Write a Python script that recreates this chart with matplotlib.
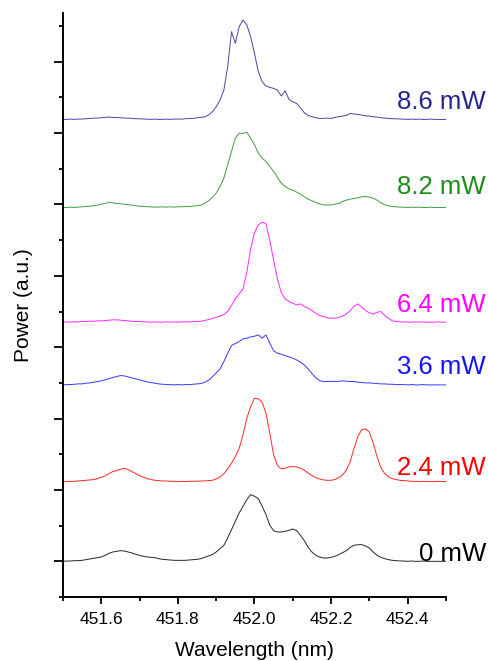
import matplotlib
matplotlib.use("Agg")
import matplotlib.pyplot as plt
import matplotlib.transforms as mtransforms
from matplotlib.ticker import MultipleLocator, NullFormatter, FormatStrFormatter
import numpy as np

plt.rcParams['font.family'] = ['Liberation Sans', 'DejaVu Sans']

# Wavelength grid (nm), 0.01 nm steps from 451.50 to 452.50
wavelength_start = 451.50
wavelength_step = 0.01

# Emission spectra above their own baseline (counts), one list per pump power
spec_0mW = [
    0, 1, 1, 2, 2, 3, 5, 7, 9, 11,
    13, 18, 24, 28, 30, 32, 31, 28, 25, 21,
    18, 15, 13, 12, 11, 8, 6, 5, 4, 3,
    3, 3, 3, 4, 5, 6, 8, 12, 16, 20,
    28, 38, 48, 70, 95, 120, 145, 165, 185, 200,
    195, 188, 165, 140, 108, 92, 88, 88, 90, 93,
    97, 92, 78, 62, 42, 28, 18, 13, 10, 10,
    12, 15, 20, 26, 32, 42, 48, 50, 50, 46,
    40, 28, 18, 12, 8, 5, 3, 2, 1, 1,
    0, 1, 0, 0, 1, 0, 0, 0, 0, 0, 0,
]
spec_2p4mW = [
    0, 0, 1, 1, 2, 3, 4, 5, 6, 9,
    13, 17, 24, 30, 33, 37, 40, 36, 30, 24,
    18, 13, 9, 6, 4, 3, 2, 2, 1, 1,
    0, 1, 0, 1, 1, 1, 2, 2, 3, 4,
    8, 14, 24, 38, 55, 75, 100, 140, 190, 225,
    250, 248, 238, 205, 145, 80, 48, 38, 40, 44,
    45, 44, 40, 34, 26, 18, 12, 8, 5, 4,
    4, 6, 12, 20, 35, 60, 100, 135, 156, 158,
    148, 115, 75, 42, 24, 14, 9, 6, 4, 3,
    2, 1, 1, 0, 1, 0, 0, 0, 1, 0, 0,
]
spec_3p6mW = [
    0, 1, 1, 2, 3, 3, 5, 6, 8, 10,
    12, 15, 19, 22, 25, 28, 27, 24, 21, 18,
    15, 12, 9, 7, 5, 3, 2, 1, 1, 0,
    1, 0, 1, 1, 2, 3, 4, 8, 14, 24,
    36, 48, 70, 95, 118, 124, 130, 138, 140, 144,
    146, 150, 140, 150, 125, 102, 95, 92, 88, 84,
    80, 75, 68, 60, 48, 34, 22, 13, 10, 10,
    11, 10, 11, 12, 11, 10, 10, 8, 7, 6,
    6, 5, 4, 3, 3, 2, 2, 1, 1, 1,
    0, 1, 0, 0, 1, 0, 0, 0, 0, 0, 0,
]
spec_6p4mW = [
    0, 1, 0, 1, 1, 2, 2, 3, 3, 4,
    4, 5, 6, 7, 7, 6, 5, 4, 3, 2,
    2, 1, 1, 0, 1, 0, 0, 1, 0, 1,
    0, 1, 1, 1, 2, 2, 3, 5, 8, 11,
    15, 18, 23, 32, 50, 70, 85, 100, 150, 220,
    268, 292, 300, 295, 245, 185, 130, 88, 70, 62,
    57, 52, 55, 47, 42, 35, 27, 20, 17, 13,
    12, 12, 14, 18, 25, 35, 48, 55, 45, 35,
    28, 24, 30, 32, 20, 12, 4, 2, 1, 1,
    0, 0, 1, 0, 1, 0, 0, 0, 1, 0, 0,
]
spec_8p2mW = [
    0, 0, 1, 0, 1, 2, 3, 4, 5, 7,
    10, 12, 16, 14, 12, 11, 10, 8, 7, 5,
    4, 3, 2, 2, 1, 1, 2, 1, 2, 1,
    2, 2, 3, 3, 4, 5, 7, 12, 20, 30,
    43, 63, 88, 128, 168, 208, 223, 222, 226, 208,
    188, 163, 148, 138, 123, 108, 90, 73, 63, 56,
    52, 46, 40, 32, 25, 20, 15, 11, 8, 7,
    8, 10, 12, 18, 22, 25, 27, 29, 32, 33,
    31, 28, 22, 14, 8, 5, 3, 2, 1, 1,
    0, 1, 0, 1, 0, 0, 1, 0, 0, 0, 0,
]
spec_8p6mW = [
    0, 0, 1, 0, 1, 1, 2, 3, 4, 4,
    5, 6, 7, 6, 6, 5, 4, 4, 3, 2,
    2, 1, 1, 0, 1, 0, 0, 1, 0, 1,
    1, 1, 2, 3, 3, 5, 6, 8, 13, 23,
    38, 58, 88, 158, 263, 228, 278, 298, 283, 248,
    198, 143, 113, 100, 96, 93, 88, 70, 86, 60,
    53, 48, 35, 20, 12, 8, 5, 3, 3, 4,
    3, 6, 8, 10, 12, 18, 16, 15, 13, 11,
    10, 8, 7, 5, 4, 3, 2, 2, 1, 1,
    0, 1, 0, 1, 0, 0, 1, 0, 0, 0, 0,
]

spectra = [spec_0mW, spec_2p4mW, spec_3p6mW, spec_6p4mW, spec_8p2mW, spec_8p6mW]
power_labels = ["0 mW", "2.4 mW", "3.6 mW", "6.4 mW", "8.2 mW", "8.6 mW"]
# vertical stacking offset of each spectrum (counts)
offsets = [0, 239, 529, 717, 1061, 1325]

colors = ["#000000", "#ff0000", "#1414ff", "#ff00ff", "#1e8c1e", "#26268e"]
label_lift = [1, 20, 33, 31, 41, 32]

fig = plt.figure(figsize=(4.88, 6.61), dpi=100)
ax = fig.add_axes([0.1291, 0.0968, 0.7848, 0.8835])

for spec, off, col in zip(spectra, offsets, colors):
    n = len(spec)
    wl = wavelength_start + wavelength_step * np.arange(n)
    ax.plot(wl, np.asarray(spec) + off, color=col, lw=0.7, alpha=0.85,
            solid_joinstyle='round')

ax.set_xlim(451.5, 452.5)
ax.set_ylim(-107, 1644)

for s in ("top", "right"):
    ax.spines[s].set_visible(False)
for s in ("left", "bottom"):
    ax.spines[s].set_linewidth(1.4)

ax.xaxis.set_major_locator(MultipleLocator(0.2))
ax.xaxis.set_minor_locator(MultipleLocator(0.1))
ax.xaxis.set_major_formatter(FormatStrFormatter('%.1f'))
ax.yaxis.set_major_locator(MultipleLocator(214))
ax.yaxis.set_minor_locator(MultipleLocator(107))
ax.yaxis.set_major_formatter(NullFormatter())

ax.tick_params(axis='x', which='major', direction='out', length=5, width=1.3,
               labelsize=12.5, pad=6)
ax.tick_params(axis='x', which='minor', direction='out', length=3, width=1.3)
ax.tick_params(axis='y', which='major', direction='out', length=6.5, width=1.3)
ax.tick_params(axis='y', which='minor', direction='out', length=3, width=1.3)

ax.set_xlabel("Wavelength (nm)", fontsize=15)
ax.set_ylabel("Power (a.u.)", fontsize=15)
ax.xaxis.set_label_coords(0.5, -0.075)
ax.yaxis.set_label_coords(-0.078, 0.5)

trans = mtransforms.blended_transform_factory(fig.transFigure, ax.transData)
for lab, off, lift, col in zip(power_labels, offsets, label_lift, colors):
    ax.text(0.996, off + lift, lab, transform=trans, ha='right', va='baseline',
            fontsize=18.5, color=col, clip_on=False)

fig.savefig("out.png", dpi=100)
